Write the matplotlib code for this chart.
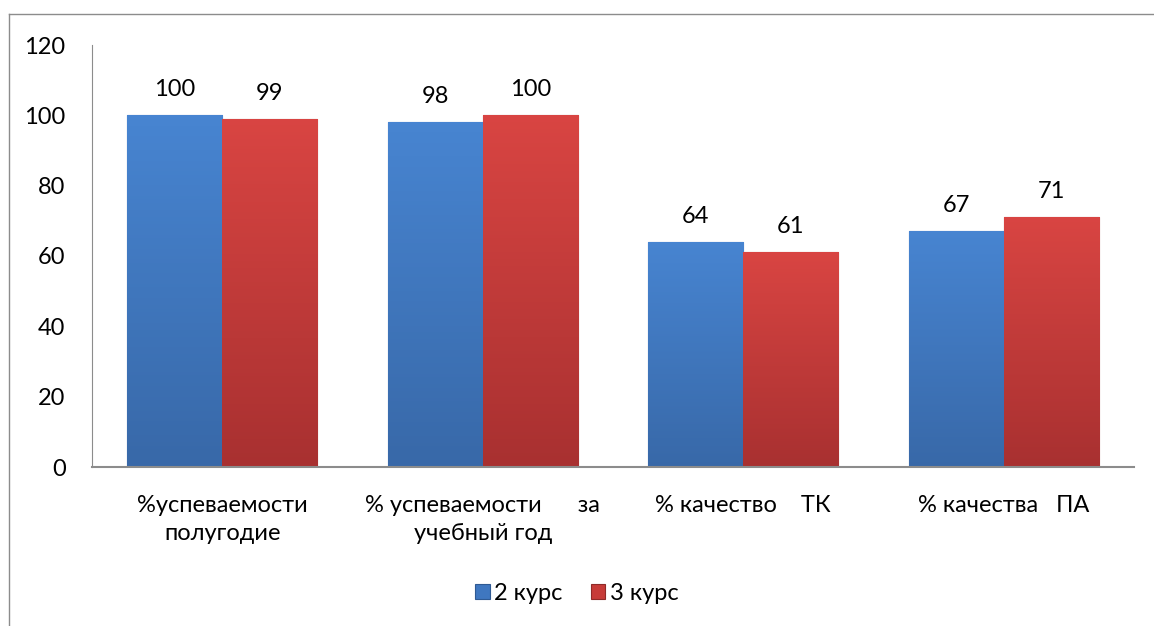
import numpy as np
import matplotlib.pyplot as plt
from matplotlib.lines import Line2D

categories = ['%успеваемости\nполугодие', '% успеваемости      за\nучебный год',
              '% качество    ТК', '% качества   ПА']
kurs2 = [100, 98, 64, 67]
kurs3 = [99, 100, 61, 71]
series_names = ['2 курс', '3 курс']

plt.rcParams['font.family'] = ['Lato', 'DejaVu Sans']
FS = 17

fig = plt.figure(figsize=(11.54, 6.26), dpi=100)
ax = fig.add_axes([92/1154, 1-467/626, (1134-92)/1154, (467-45)/626])

# outer frame of the chart area (only left and top are inside the picture)
fx, fy = 8.5/1154, 1-13.5/626
fig.lines.append(Line2D([fx, fx], [-0.01, fy], transform=fig.transFigure, color='#8c8c8c', lw=1.0))
fig.lines.append(Line2D([fx, 1.01], [fy, fy], transform=fig.transFigure, color='#8c8c8c', lw=1.0))

x = np.arange(len(categories))
w = 0.365
b1 = ax.bar(x - w/2, kurs2, w, color='#3f77c0', edgecolor='#2f5a93', linewidth=0.8, label=series_names[0])
b2 = ax.bar(x + w/2, kurs3, w, color='#c73b38', edgecolor='#8f2a28', linewidth=0.8, label=series_names[1])

# vertical gradient on the bars
def shade(bars, top, bottom):
    grad = np.linspace(0, 1, 100).reshape(-1, 1)
    c0 = np.array(top)
    c1 = np.array(bottom)
    img = c0 + (c1 - c0) * grad[:, :, None]
    for r in bars:
        bx, by = r.get_x(), r.get_y()
        bw, bh = r.get_width(), r.get_height()
        im = ax.imshow(img, extent=[bx, bx + bw, by, by + bh], aspect='auto', zorder=r.get_zorder())
        im.set_clip_path(r)

shade(b1, (0.28, 0.52, 0.82), (0.22, 0.41, 0.66))
shade(b2, (0.85, 0.27, 0.26), (0.66, 0.19, 0.19))

for bars in (b1, b2):
    for r in bars:
        ax.annotate(f'{int(r.get_height())}', (r.get_x() + r.get_width()/2, r.get_height()),
                    xytext=(0, 11), textcoords='offset points', ha='center', va='bottom', fontsize=FS)

ax.set_xlim(-0.5, 3.5)
ax.set_ylim(0, 120)
ax.set_yticks(range(0, 121, 20))
ax.set_xticks(x)
ax.set_xticklabels(categories, fontsize=FS, linespacing=1.45)
ax.tick_params(axis='y', labelsize=FS, length=0, pad=19)
ax.tick_params(axis='x', length=0, pad=20)
for s in ('top', 'right'):
    ax.spines[s].set_visible(False)
ax.spines['left'].set_color('#8c8c8c')
ax.spines['bottom'].set_color('#8c8c8c')
ax.spines['bottom'].set_linewidth(1.5)

fig.legend(handles=[b1, b2], labels=series_names, loc='center', bbox_to_anchor=(0.5, 1-593/626),
           ncol=2, frameon=False, fontsize=FS, handlelength=0.6, handleheight=0.6,
           handletextpad=0.2, columnspacing=1.2)

fig.savefig('out.png', dpi=100)
